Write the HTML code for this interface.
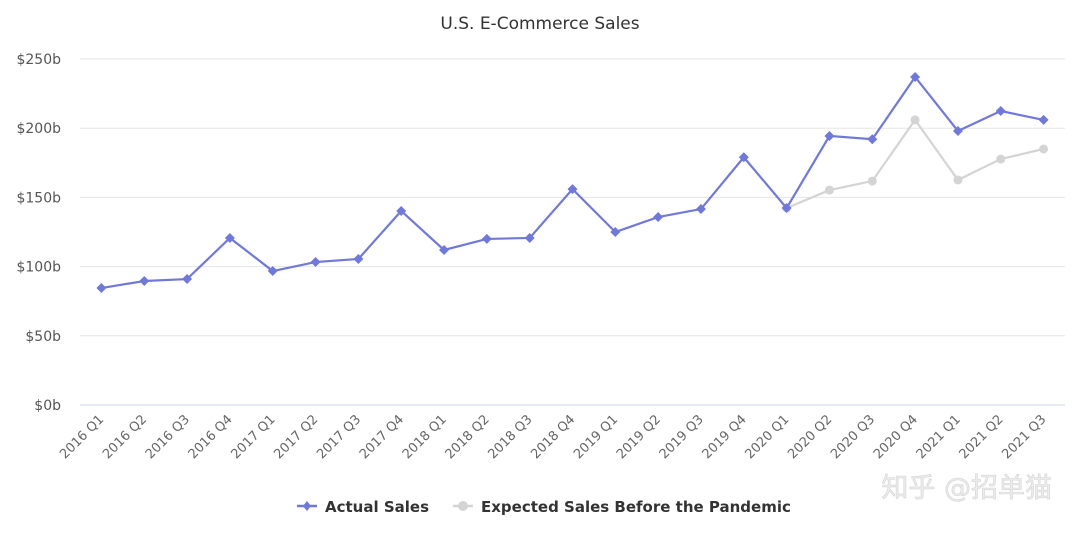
<!DOCTYPE html>
<html><head><meta charset="utf-8">
<style>
body{margin:0;background:#fff;width:1080px;height:530px;overflow:hidden;font-family:"Liberation Sans","Noto Sans CJK SC",sans-serif;}
svg text{font-family:"DejaVu Sans","Liberation Sans","Noto Sans CJK SC",sans-serif;}
</style></head><body>
<svg id="chart" width="1080" height="530" xmlns="http://www.w3.org/2000/svg">
<text x="540" y="29" text-anchor="middle" font-size="17" fill="#333">U.S. E-Commerce Sales</text>
<g id="grid"></g>
<g id="xaxis"></g>
<g id="series"></g>
<g>
 <g>
  <line x1="297" y1="506" x2="317" y2="506" stroke="#7079d8" stroke-width="2.5"/>
  <path d="M307 501 L311 506 L307 511 L303 506 Z" fill="#7079d8"/>
  <text x="325" y="512" font-size="15" font-weight="bold" fill="#333">Actual Sales</text>
 </g>
 <g>
  <line x1="453" y1="506" x2="473" y2="506" stroke="#d4d4d4" stroke-width="2.5"/>
  <circle cx="463" cy="506" r="5" fill="#d4d4d4"/>
  <text x="481" y="512" font-size="15" font-weight="bold" fill="#333">Expected Sales Before the Pandemic</text>
 </g>
</g>
<text x="1052" y="497" text-anchor="end" font-size="27" fill="#ececec" stroke="#d4d4d4" stroke-width="0.6">知乎 @招单猫</text>
</svg>
<script>
const categories=["2016 Q1","2016 Q2","2016 Q3","2016 Q4","2017 Q1","2017 Q2","2017 Q3","2017 Q4","2018 Q1","2018 Q2","2018 Q3","2018 Q4","2019 Q1","2019 Q2","2019 Q3","2019 Q4","2020 Q1","2020 Q2","2020 Q3","2020 Q4","2021 Q1","2021 Q2","2021 Q3"];
const actualSales=[84.5,89.6,91,120.7,96.8,103.3,105.5,140.2,112,120,120.7,156,125,135.8,141.6,179,142.3,194.4,192,237,198,212.4,206];
const expectedSales=[null,null,null,null,null,null,null,null,null,null,null,null,null,null,null,null,142.3,155.3,161.8,206,162.6,177.7,185];
const yTicks=[0,50,100,150,200,250];
const yTickLabels=["$0b","$50b","$100b","$150b","$200b","$250b"];

const NS="http://www.w3.org/2000/svg";
const plotLeft=80,plotRight=1065,plotTop=59,plotBottom=405,yMax=250;
const step=(plotRight-plotLeft)/categories.length;
function x(i){return plotLeft+step*(i+0.5);}
function y(v){return plotBottom-(v/yMax)*(plotBottom-plotTop);}
function mk(tag,attrs,parent){const e=document.createElementNS(NS,tag);for(const k in attrs)e.setAttribute(k,attrs[k]);parent.appendChild(e);return e;}

const grid=document.getElementById('grid');
yTicks.forEach((t,i)=>{
  const l=mk('line',{x1:plotLeft,x2:plotRight,y1:y(t),y2:y(t),stroke:i===0?'#ccd6eb':'#e6e6e6','stroke-width':1},grid);
  
  
  const tx=mk('text',{x:61,y:y(t)+5,'text-anchor':'end','font-size':14,fill:'#555'},grid);
  tx.textContent=yTickLabels[i];
  
  
});
const xa=document.getElementById('xaxis');
categories.forEach((c,i)=>{
  const tx=mk('text',{x:x(i)+3,y:plotBottom+15,'text-anchor':'end','font-size':13,fill:'#666',transform:`rotate(-45 ${x(i)+3} ${plotBottom+15})`},xa);
  tx.textContent=c;
  
  
});
const sg=document.getElementById('series');
function drawLine(vals,color){
  let d='';vals.forEach((v,i)=>{if(v==null)return;d+=(d?'L':'M')+x(i)+' '+y(v)+' ';});
  return mk('path',{d:d,fill:'none',stroke:color,'stroke-width':2.2},sg);
}
const pe=drawLine(expectedSales,'#d4d4d4');


expectedSales.forEach((v,i)=>{
  if(v==null)return;
  const c=mk('circle',{cx:x(i),cy:y(v),r:4.5,fill:'#d4d4d4'},sg);
  
  
});
const pa=drawLine(actualSales,'#7079d8');


actualSales.forEach((v,i)=>{
  const cx=x(i),cy=y(v);
  const m=mk('path',{d:`M${cx} ${cy-5} L${cx+5} ${cy} L${cx} ${cy+5} L${cx-5} ${cy} Z`,fill:'#7079d8'},sg);
  
  
});
</script>
</body></html>
